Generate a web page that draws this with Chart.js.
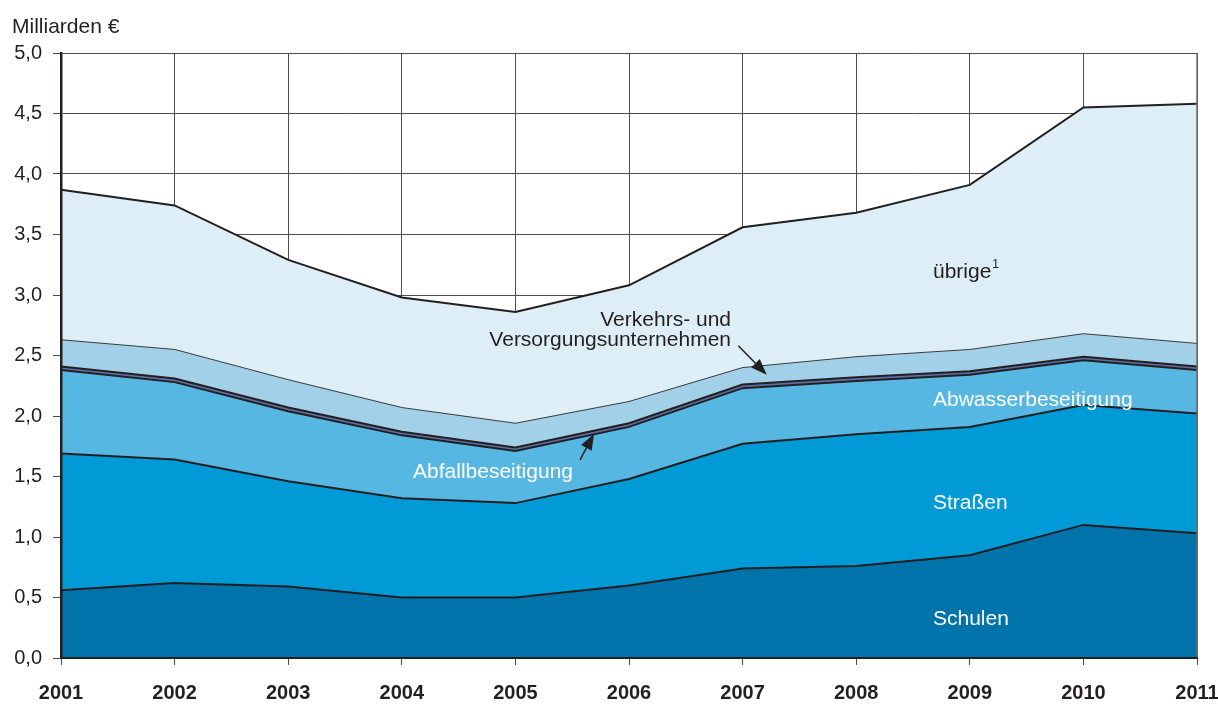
<!DOCTYPE html>
<html lang="de">
<head>
<meta charset="utf-8">
<title>Investitionen</title>
<script src="https://cdn.jsdelivr.net/npm/chart.js@4.4.1/dist/chart.umd.min.js"></script>
<style>
  html, body { margin: 0; padding: 0; background: #fff; }
  #wrap { width: 1218px; height: 704px; position: relative; }
</style>
</head>
<body>
<div id="wrap"><canvas id="chart"></canvas></div>
<script>
// Data (Milliarden €), stacked from bottom to top
const years = ['2001', '2002', '2003', '2004', '2005', '2006', '2007', '2008', '2009', '2010', '2011'];
const schulen = [0.56, 0.62, 0.59, 0.50, 0.50, 0.60, 0.74, 0.76, 0.85, 1.10, 1.03];
const strassen = [1.13, 1.02, 0.87, 0.82, 0.78, 0.88, 1.03, 1.09, 1.06, 0.99, 0.99];
const abwasser = [0.69, 0.64, 0.58, 0.52, 0.43, 0.43, 0.46, 0.44, 0.43, 0.37, 0.36];
const abfall = [0.03, 0.03, 0.03, 0.03, 0.03, 0.03, 0.03, 0.03, 0.03, 0.03, 0.03];
const verkehr = [0.22, 0.24, 0.23, 0.20, 0.20, 0.18, 0.14, 0.17, 0.18, 0.19, 0.19];
const uebrige = [1.24, 1.19, 0.99, 0.91, 0.92, 0.96, 1.16, 1.19, 1.36, 1.87, 1.98];
const yTickLabels = ['0,0', '0,5', '1,0', '1,5', '2,0', '2,5', '3,0', '3,5', '4,0', '4,5', '5,0'];

const FONT = '"Liberation Sans", Arial, Helvetica, sans-serif';
const DARK = '#231f20';

// labels inside the chart, placed in data units (x = year index, y = value at baseline)
const notes = [
  { text: 'übrige', sup: '1', x: 7.676, y: 3.14, color: DARK },
  { text: 'Verkehrs- und', x: 5.898, y: 2.745, color: DARK, align: 'right' },
  { text: 'Versorgungsunternehmen', x: 5.898, y: 2.575, color: DARK, align: 'right' },
  { text: 'Abfallbeseitigung', x: 3.099, y: 1.49, color: '#fff' },
  { text: 'Abwasserbeseitigung', x: 7.676, y: 2.08, color: '#fff' },
  { text: 'Straßen', x: 7.676, y: 1.23, color: '#fff' },
  { text: 'Schulen', x: 7.676, y: 0.27, color: '#fff' }
];
const arrows = [
  { from: [5.962, 2.581], to: [6.212, 2.341] },
  { from: [4.569, 1.638], to: [4.692, 1.853] }
];

function band(label, data, fill, bg, lineColor, lineWidth) {
  return {
    label: label,
    data: data,
    fill: fill,
    backgroundColor: bg,
    borderColor: lineColor,
    borderWidth: lineWidth,
    pointRadius: 0,
    tension: 0
  };
}

const overlay = {
  id: 'overlay',
  afterDatasetsDraw(chart) {
    const ctx = chart.ctx;
    const xs = chart.scales.x;
    const ys = chart.scales.y;
    const area = chart.chartArea;

    // right frame line
    ctx.save();
    ctx.strokeStyle = '#6d6e71';
    ctx.lineWidth = 1.5;
    ctx.beginPath();
    ctx.moveTo(area.right, area.top);
    ctx.lineTo(area.right, area.bottom);
    ctx.stroke();

    ctx.font = '21px ' + FONT;
    ctx.textBaseline = 'alphabetic';
    notes.forEach(n => {
      const px = xs.getPixelForValue(n.x);
      const py = ys.getPixelForValue(n.y);
      ctx.fillStyle = n.color;
      ctx.textAlign = n.align || 'left';
      ctx.fillText(n.text, px, py);
      if (n.sup) {
        const w = ctx.measureText(n.text).width;
        ctx.save();
        ctx.font = '12px ' + FONT;
        ctx.textAlign = 'left';
        ctx.fillText(n.sup, px + w + 1, py - 10);
        ctx.restore();
      }
    });

    ctx.strokeStyle = DARK;
    ctx.fillStyle = DARK;
    ctx.lineWidth = 1.5;
    arrows.forEach(a => {
      const x1 = xs.getPixelForValue(a.from[0]), y1 = ys.getPixelForValue(a.from[1]);
      const x2 = xs.getPixelForValue(a.to[0]), y2 = ys.getPixelForValue(a.to[1]);
      const ang = Math.atan2(y2 - y1, x2 - x1);
      const len = 16, half = 6;
      const bx = x2 - Math.cos(ang) * len, by = y2 - Math.sin(ang) * len;
      ctx.beginPath();
      ctx.moveTo(x1, y1);
      ctx.lineTo(bx, by);
      ctx.stroke();
      ctx.beginPath();
      ctx.moveTo(x2, y2);
      ctx.lineTo(bx + Math.sin(ang) * half, by - Math.cos(ang) * half);
      ctx.lineTo(bx - Math.sin(ang) * half, by + Math.cos(ang) * half);
      ctx.closePath();
      ctx.fill();
    });

    // unit label
    ctx.font = '21px ' + FONT;
    ctx.fillStyle = DARK;
    ctx.textAlign = 'left';
    ctx.fillText('Milliarden €', 12, 33);
    ctx.restore();
  }
};

const ctx = document.getElementById('chart').getContext('2d');
const chart = new Chart(ctx, {
  type: 'line',
  data: {
    labels: years,
    datasets: [
      band('Schulen', schulen, 'origin', '#0073aa', DARK, 2),
      band('Straßen', strassen, '-1', '#009ad6', DARK, 2),
      band('Abwasserbeseitigung', abwasser, '-1', '#56b8e2', DARK, 2),
      band('Abfallbeseitigung', abfall, '-1', '#5d6fa6', DARK, 2),
      band('Verkehrs- und Versorgungsunternehmen', verkehr, '-1', '#a2d0e8', '#3a3a3a', 1),
      band('übrige', uebrige, '-1', '#ddeef7', DARK, 2)
    ]
  },
  options: {
    responsive: true,
    maintainAspectRatio: false,
    animation: false,
    layout: { padding: { top: 53, right: 21, left: 0, bottom: 0 } },
    plugins: {
      legend: { display: false },
      tooltip: { enabled: false }
    },
    scales: {
      x: {
        offset: false,
        grid: { color: '#4d4d4f', lineWidth: 1, tickLength: 7, tickColor: '#4d4d4f' },
        border: { color: DARK, width: 2, z: 1 },
        ticks: {
          color: DARK,
          padding: 16,
          maxRotation: 0,
          autoSkip: false,
          font: { family: FONT, size: 20, weight: 'bold' }
        },
        afterFit(scale) {
          scale.height = 46;
          scale.paddingLeft = 0;
          scale.paddingRight = 0;
        }
      },
      y: {
        stacked: true,
        min: 0,
        max: 5,
        grid: { color: '#4d4d4f', lineWidth: 1, tickLength: 8, tickColor: '#4d4d4f' },
        border: { color: DARK, width: 2.5, z: 1 },
        ticks: {
          stepSize: 0.5,
          color: DARK,
          padding: 11,
          font: { family: FONT, size: 20 },
          callback: (v, i) => yTickLabels[i]
        },
        afterFit(scale) {
          scale.width = 61;
        }
      }
    }
  },
  plugins: [overlay]
});
</script>
</body>
</html>
